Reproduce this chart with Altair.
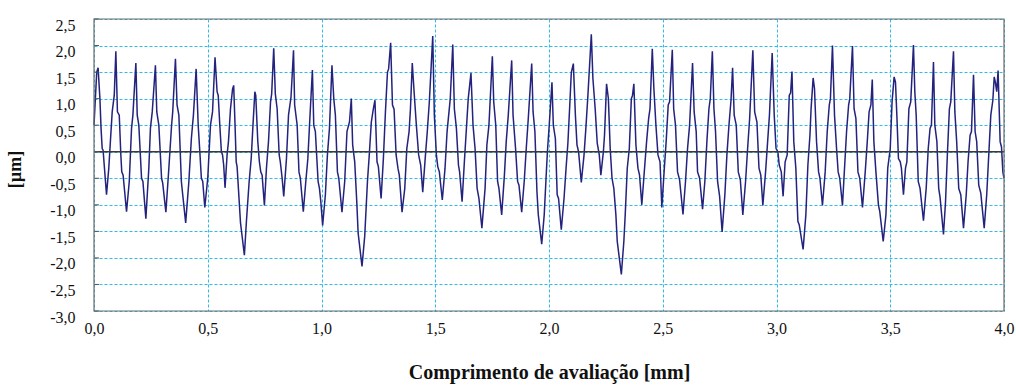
import altair as alt
import pandas as pd

# Surface roughness profile, evaluation length 0-4 mm, heights in micrometres.
seg1_x = [0.000, 0.012, 0.018, 0.026, 0.031, 0.036, 0.040, 0.046, 0.055, 0.065, 0.072, 0.080, 0.089, 0.096,
          0.103, 0.111, 0.118, 0.122, 0.128, 0.143, 0.155, 0.165, 0.171, 0.184, 0.190, 0.197, 0.209, 0.215,
          0.228, 0.241, 0.248, 0.256, 0.270, 0.276, 0.285, 0.297, 0.302, 0.316, 0.329, 0.341, 0.346, 0.358,
          0.365, 0.373, 0.384, 0.390, 0.403, 0.417, 0.428, 0.437, 0.449, 0.458, 0.466, 0.472, 0.478]
seg1_y = [0.5, 1.5, 1.58, 1.0, 0.44, 0.06, 0.03, -0.31, -0.81, -0.31, 0.19, 0.75, 1.06, 1.89,
          0.75, 0.69, -0.06, -0.38, -0.44, -1.13, -0.56, 0.44, 0.69, 1.67, 0.69, 0.5, -0.5, -0.56,
          -1.26, -0.31, 0.44, 0.75, 1.63, 0.75, 0.5, -0.5, -0.59, -1.14, -0.31, 0.5, 0.75, 1.75,
          0.88, 0.69, -0.56, -0.81, -1.34, -0.56, 0.25, 0.69, 1.56, 0.5, -0.06, -0.5, -0.56]

seg2_x = [0.487, 0.500, 0.512, 0.521, 0.532, 0.541, 0.546, 0.553, 0.560, 0.565, 0.570, 0.576, 0.585, 0.591,
          0.600, 0.609, 0.614, 0.620, 0.625, 0.629, 0.644, 0.661, 0.670, 0.682, 0.691, 0.698, 0.707, 0.711,
          0.720, 0.727, 0.733, 0.739, 0.749, 0.758, 0.767, 0.776, 0.781, 0.790, 0.797, 0.805, 0.814, 0.819,
          0.827, 0.834, 0.846, 0.855, 0.866, 0.877, 0.882, 0.893, 0.901, 0.907, 0.920, 0.931, 0.940, 0.948,
          0.960, 0.966, 0.973]
seg2_y = [-1.05, -0.5, 0.5, 0.75, 1.78, 1.13, 1.06, 0.5, 0.0, -0.06, -0.25, -0.68, -0.06, 0.19,
          0.81, 1.18, 1.25, 0.5, -0.19, -0.28, -1.34, -1.95, -1.31, -0.56, -0.13, 0.44, 1.13, 1.06,
          0.19, -0.19, -0.38, -0.44, -1.01, -0.31, 0.19, 0.94, 1.09, 1.95, 1.09, 0.81, -0.06, -0.19,
          -0.5, -0.84, -0.13, 0.69, 1.03, 1.91, 0.88, 0.5, -0.38, -0.5, -1.13, -0.56, -0.13, 0.56,
          1.54, 0.5, 0.38]

seg3_x = [0.985, 0.991, 0.997, 1.005, 1.017, 1.026, 1.035, 1.046, 1.054, 1.061, 1.070, 1.076, 1.090, 1.102,
          1.112, 1.123, 1.131, 1.137, 1.146, 1.155, 1.161, 1.178, 1.190, 1.202, 1.210, 1.219, 1.228, 1.235,
          1.244, 1.250, 1.262, 1.272, 1.281, 1.290, 1.295, 1.304, 1.312, 1.319, 1.328, 1.336, 1.342, 1.354,
          1.366, 1.375, 1.385, 1.391, 1.399, 1.407, 1.417, 1.427, 1.436, 1.445, 1.457, 1.465, 1.474]
seg3_y = [-0.56, -0.69, -0.94, -1.39, -0.81, -0.06, 0.44, 1.63, 1.0, 0.69, -0.38, -0.5, -1.14, -0.56,
          0.38, 0.56, 1.0, 0.13, -0.19, -0.94, -1.53, -2.16, -1.59, -0.56, -0.06, 0.56, 0.81, 0.97,
          -0.19, -0.28, -0.88, -0.13, 0.75, 1.5, 1.56, 2.05, 0.88, 0.8, -0.06, -0.31, -0.44, -1.14,
          -0.69, 0.06, 0.38, 0.81, 1.67, 1.13, 0.5, -0.06, -0.25, -0.76, -0.06, 0.38, 0.94]

seg4_x = [1.489, 1.496, 1.505, 1.511, 1.518, 1.531, 1.543, 1.552, 1.559, 1.566, 1.577, 1.584, 1.593, 1.602,
          1.607, 1.618, 1.628, 1.637, 1.645, 1.657, 1.666, 1.675, 1.684, 1.692, 1.705, 1.719, 1.727, 1.736,
          1.751, 1.757, 1.766, 1.774, 1.780, 1.792, 1.804, 1.812, 1.821, 1.836, 1.842, 1.853, 1.862, 1.868,
          1.880, 1.891, 1.900, 1.909, 1.924, 1.930, 1.938, 1.947, 1.953, 1.968, 1.979, 1.987]
seg4_y = [2.18, 0.69, -0.06, -0.28, -0.38, -0.91, -0.31, 0.38, 0.69, 1.0, 2.02, 0.81, 0.44, -0.25,
          -0.38, -0.94, -0.19, 0.44, 1.0, 1.48, 0.5, 0.06, -0.69, -0.88, -1.44, -0.69, 0.13, 0.5,
          1.8, 0.94, 0.5, -0.56, -0.69, -1.19, -0.44, 0.19, 0.69, 1.72, 0.69, 0.06, -0.56, -0.63,
          -1.14, -0.56, 0.06, 0.63, 1.66, 0.75, 0.38, -0.75, -1.19, -1.74, -1.19, -0.5]

seg5_x = [1.993, 2.001, 2.013, 2.019, 2.028, 2.036, 2.042, 2.054, 2.066, 2.075, 2.083, 2.092, 2.098, 2.107,
          2.116, 2.123, 2.130, 2.142, 2.154, 2.162, 2.171, 2.186, 2.193, 2.203, 2.212, 2.221, 2.228, 2.239,
          2.244, 2.253, 2.261, 2.269, 2.277, 2.285, 2.294, 2.300, 2.318, 2.329, 2.335, 2.344, 2.353, 2.362,
          2.367, 2.373, 2.382, 2.391, 2.398, 2.408, 2.420, 2.429, 2.438, 2.444, 2.454, 2.461, 2.470, 2.479,
          2.488]
seg5_y = [0.0, 0.5, 1.31, 0.5, 0.25, -0.81, -0.88, -1.47, -0.88, -0.31, 0.16, 0.94, 1.49, 1.66,
          0.69, 0.13, 0.0, -0.58, -0.06, 0.44, 1.06, 2.21, 1.38, 0.81, 0.16, -0.06, -0.44, 0.0,
          0.31, 1.28, 1.0, 0.06, -0.5, -0.69, -1.19, -1.69, -2.31, -1.69, -1.19, -0.31, 0.06, 1.0,
          1.06, 1.28, 0.13, -0.31, -0.44, -1.0, -0.31, 0.19, 0.63, 0.81, 1.94, 1.19, 0.5, -0.06,
          -0.19]

seg6_x = [2.496, 2.507, 2.515, 2.524, 2.530, 2.542, 2.548, 2.556, 2.565, 2.574, 2.589, 2.600, 2.609, 2.618,
          2.631, 2.638, 2.647, 2.653, 2.662, 2.675, 2.685, 2.694, 2.703, 2.709, 2.718, 2.725, 2.732, 2.741,
          2.750, 2.761, 2.773, 2.782, 2.791, 2.800, 2.807, 2.814, 2.823, 2.832, 2.841, 2.852, 2.864, 2.873,
          2.882, 2.896, 2.904, 2.914, 2.923, 2.931, 2.940, 2.952, 2.961, 2.969, 2.981, 2.990, 2.998]
seg6_y = [-1.05, -0.31, 0.19, 0.88, 0.94, 1.92, 0.81, 0.5, -0.38, -0.53, -1.18, -0.56, 0.06, 0.5,
          1.67, 0.75, 0.38, -0.38, -0.5, -1.08, -0.56, 0.19, 0.81, 1.0, 1.89, 0.81, 0.38, -0.56,
          -0.84, -1.51, -0.81, -0.06, 0.5, 0.97, 1.58, 0.69, 0.5, -0.38, -0.53, -1.19, -0.56, 0.06,
          0.63, 1.91, 0.75, 0.56, -0.31, -0.44, -1.01, -0.38, 0.19, 0.69, 1.86, 0.69, 0.06]

seg7_x = [3.006, 3.012, 3.021, 3.029, 3.038, 3.047, 3.056, 3.062, 3.068, 3.076, 3.085, 3.094, 3.100, 3.117,
          3.129, 3.138, 3.147, 3.152, 3.161, 3.167, 3.176, 3.185, 3.191, 3.202, 3.214, 3.223, 3.232, 3.237,
          3.246, 3.255, 3.264, 3.271, 3.278, 3.290, 3.299, 3.308, 3.317, 3.322, 3.334, 3.341, 3.349, 3.358,
          3.366, 3.378, 3.390, 3.399, 3.407, 3.415, 3.421, 3.428, 3.437, 3.448, 3.454, 3.469, 3.481, 3.489]
seg7_y = [0.0, -0.25, -0.38, -0.84, -0.19, -0.06, 1.06, 1.11, 1.51, 0.19, -0.31, -1.31, -1.38, -1.84,
          -1.19, -0.25, 0.31, 0.81, 1.39, 1.19, 0.19, -0.38, -0.5, -1.01, -0.38, 0.38, 0.88, 1.0,
          2.0, 0.69, 0.06, -0.38, -0.5, -1.01, -0.31, 0.38, 0.88, 1.0, 1.99, 0.81, 0.63, -0.38,
          -0.5, -1.05, -0.38, 0.19, 0.75, 0.88, 1.36, 0.19, -0.38, -1.0, -1.13, -1.69, -1.19, -0.31]

seg8_x = [3.500, 3.508, 3.517, 3.523, 3.529, 3.536, 3.544, 3.549, 3.558, 3.567, 3.573, 3.582, 3.590, 3.602,
          3.608, 3.614, 3.623, 3.631, 3.646, 3.658, 3.667, 3.675, 3.681, 3.690, 3.696, 3.705, 3.713, 3.719,
          3.734, 3.743, 3.751, 3.760, 3.766, 3.778, 3.784, 3.792, 3.801, 3.810, 3.822, 3.834, 3.842, 3.851,
          3.857, 3.866, 3.873, 3.880, 3.889, 3.898, 3.913, 3.924, 3.933, 3.942, 3.951, 3.957, 3.962, 3.968,
          3.974, 3.983, 3.989, 3.995, 4.000]
seg8_y = [0.06, 0.94, 1.41, 1.31, 0.69, -0.13, -0.19, -0.31, -0.81, -0.31, -0.19, 0.81, 0.94, 2.01,
          1.13, 0.69, -0.56, -0.69, -1.3, -0.69, 0.06, 0.44, 0.5, 1.69, 0.5, 0.19, -0.69, -0.86,
          -1.56, -0.94, -0.06, 0.81, 0.94, 1.89, 0.75, 0.19, -0.69, -0.81, -1.44, -0.81, -0.19, 0.31,
          0.38, 1.45, 0.38, 0.19, -0.63, -0.78, -1.44, -0.81, -0.06, 0.69, 0.97, 1.41, 1.31, 1.13,
          1.53, 0.19, 0.09, -0.38, -0.5]

x_ticks = [0.0, 0.5, 1.0, 1.5, 2.0, 2.5, 3.0, 3.5, 4.0]
y_ticks = [-3.0, -2.5, -2.0, -1.5, -1.0, -0.5, 0.0, 0.5, 1.0, 1.5, 2.0, 2.5]

xs = seg1_x + seg2_x + seg3_x + seg4_x + seg5_x + seg6_x + seg7_x + seg8_x
ys = seg1_y + seg2_y + seg3_y + seg4_y + seg5_y + seg6_y + seg7_y + seg8_y
assert len(xs) == len(ys)
profile = pd.DataFrame({"pos": xs, "height": ys})

SERIF = "Liberation Serif"
GRID = "#2fbde8"
# decimal comma and a plain hyphen for negatives
comma_fmt = "replace(replace(format(datum.value, '.1f'), '.', ','), '\u2212', '-')"

x_scale = alt.Scale(domain=[0, 4], nice=False, zero=False)
y_scale = alt.Scale(domain=[-3, 2.5], nice=False, zero=False)

x_axis = alt.Axis(
    values=x_ticks, labelExpr=comma_fmt, grid=True, gridColor=GRID, gridDash=[3, 2],
    gridWidth=1, ticks=False, domain=False, labelFont=SERIF, labelFontSize=16,
    labelColor="#111", labelPadding=9, labelFlush=False, labelOverlap=False,
    title="Comprimento de avaliação [mm]", titleFont=SERIF, titleFontSize=20,
    titleFontWeight="bold", titleColor="#111", titleY=61, titleBaseline="middle",
)
y_axis = alt.Axis(
    values=y_ticks, labelExpr=comma_fmt, grid=True, gridColor=GRID, gridDash=[3, 2],
    gridWidth=1, ticks=False, domain=False, labelFont=SERIF, labelFontSize=16,
    labelColor="#111", labelPadding=19, labelOffset=6, labelFlush=False, labelOverlap=False,
    title="[µm]", titleFont=SERIF, titleFontSize=18, titleFontWeight="bold",
    titleColor="#111", titleX=-79, titleY=150, titleBaseline="middle", titleAlign="center",
)

line = alt.Chart(profile).mark_line(color="#23237e", strokeWidth=1.5).encode(
    x=alt.X("pos:Q", scale=x_scale, axis=x_axis),
    y=alt.Y("height:Q", scale=y_scale, axis=y_axis),
)

# horizontal reference line at zero height
zero_line = alt.Chart().mark_rule(color="#3a3a3a", strokeWidth=1.4).encode(
    y=alt.Y(datum=0.0, scale=y_scale, axis=y_axis)
)

# short inward tick marks on the left edge
tick_df = pd.DataFrame({"v": y_ticks})
inner_ticks = alt.Chart(tick_df).mark_rule(color="#555", strokeWidth=1).encode(
    y=alt.Y("v:Q", scale=y_scale, axis=y_axis), x=alt.value(0), x2=alt.value(5)
)

# plot-area border drawn above the grid
frame = alt.Chart().mark_rect(fill=None, stroke="#6e6e6e", strokeWidth=1.2).encode(
    x=alt.X(datum=0.0, scale=x_scale, axis=x_axis), x2=alt.X2(datum=4.0),
    y=alt.Y(datum=-3.0, scale=y_scale, axis=y_axis), y2=alt.Y2(datum=2.5),
)

chart = alt.layer(line, zero_line, inner_ticks, frame).properties(
    width=910, height=292,
    autosize=alt.AutoSizeParams(type="none"),
    padding={"left": 94, "top": 19, "right": 12, "bottom": 74},
    background="white",
).configure_view(stroke=None)

chart.save("out.html", embed_options={"renderer": "svg", "actions": False})
